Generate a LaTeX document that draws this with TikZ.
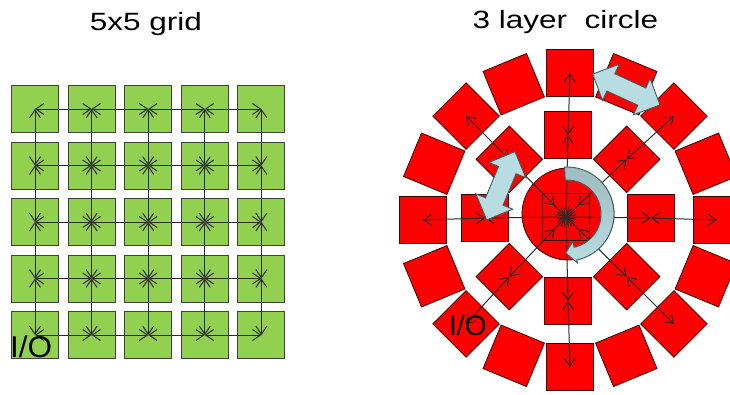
\documentclass[tikz,border=0pt]{standalone}
\usepackage{fontspec}
\setmainfont{Liberation Sans}
\usetikzlibrary{arrows.meta,decorations.markings}

\definecolor{gridgreen}{HTML}{92D050}
\definecolor{gridedge}{HTML}{404040}
\definecolor{ringred}{HTML}{FF0000}
\definecolor{ringedge}{HTML}{3A0000}
\definecolor{flowblue}{HTML}{B8DCE1}
\definecolor{flowtop}{HTML}{9FBBBF}
\definecolor{flowedge}{HTML}{3E5C60}
\definecolor{linkgray}{HTML}{2A2A2A}

\begin{document}
\begin{tikzpicture}[x=1pt,y=-1pt,
  tile/.style={draw=gridedge, line width=0.9pt, fill=gridgreen, minimum size=47pt, inner sep=0pt},
  cell/.style={draw=ringedge, line width=0.8pt, fill=ringred, minimum size=47pt, inner sep=0pt},
  barb/.tip={Straight Barb[length=8pt,width=11pt,line width=1pt]},
  link/.style={color=linkgray, line width=1pt, barb-barb},
  cornerhead/.style={postaction={decorate}, decoration={markings,
      mark=at position 0.8 with {\arrow{barb}}}},
  title/.style={font=\fontsize{25}{30}\selectfont, xscale=1.26, anchor=base, inner sep=0pt},
  label/.style={anchor=base west, inner sep=0pt},
  flow/.style={fill=flowblue, draw=flowedge, line width=0.9pt, line join=miter},
  twoway/.pic={\draw[flow] (-37,0) -- (-17,-20) -- (-17,-9.5) -- (17,-9.5) -- (17,-20)
      -- (37,0) -- (17,20) -- (17,9.5) -- (-17,9.5) -- (-17,20) -- cycle;},
]
\useasboundingbox (0,0) rectangle (730,394);

% ---------- titles ----------
\node[title] (t1) at (146,30.7) {5x5 grid};
\node[title] (t2) at (565.5,28.3) {3 layer\ \ circle};

% ---------- 5x5 grid ----------
\foreach \r in {0,...,4}
  \foreach \c in {0,...,4}
    \node[tile] (g\r\c) at ({35+56.6*\c},{109+56.5*\r}) {};
\foreach \r in {0,...,4}
  \foreach \c/\d in {0/1,1/2,2/3,3/4}
    \draw[link] (g\r\c.center) -- (g\r\d.center);
\foreach \c in {0,...,4}
  \foreach \r/\s in {0/1,1/2,2/3,3/4}
    \draw[link] (g\r\c.center) -- (g\s\c.center);
\node[label, font=\fontsize{30}{35}\selectfont, xscale=1.05] (io1) at (10,357) {I/O};

% ---------- 3 layer circle ----------
% outer ring of 16 cells
\begin{scope}[shift={(570,220)}]
  \foreach \k in {0,...,15} {
    \pgfmathsetmacro\a{22.5*\k}
    \node[cell, rotate=\a] (o\k) at (-\a:147) {};
  }
\end{scope}
% inner ring of 8 cells
\begin{scope}[shift={(568,218)}]
  \foreach \k in {0,...,7} {
    \pgfmathsetmacro\a{45*\k}
    \node[cell, rotate=\a] (i\k) at (-\a:83) {};
  }
\end{scope}
% central disc and core cell
\node[cell, circle, minimum size=92pt] (disc) at (568,214) {};
\node[cell] (core) at (566,217) {};

% links: inner ring to outer ring, inner ring to core
\foreach \k in {0,...,7} {
  \pgfmathtruncatemacro\o{2*\k}
  \draw[link] (i\k.center) -- (o\o.center);
}
\foreach \k in {0,2,4,6}
  \draw[link] (i\k.center) -- (core.center);
\foreach \k in {1,3,5,7}
  \draw[link, cornerhead] (i\k.center) -- (core.center);

\node[label, font=\fontsize{28}{33}\selectfont] (io2) at (449,335) {I/O};

% rotation arrows
\pic[rotate=-24.7] at (626.3,89.5) {twoway};
\pic[rotate=67.5] at (500.8,185.8) {twoway};
\filldraw[flow, top color=flowtop, bottom color=flowblue]
  plot[domain=-93:78, samples=50] ({567+47*cos(\x)},{214+47*sin(\x)})
  -- ({567+50*cos(78)},{214+50*sin(78)})
  -- ({567+39*cos(92)},{214+39*sin(92)})
  -- ({567+28*cos(78)},{214+28*sin(78)})
  -- plot[domain=78:-93, samples=50] ({567+34*cos(\x)},{214+34*sin(\x)})
  -- cycle;
\end{tikzpicture}
\end{document}
